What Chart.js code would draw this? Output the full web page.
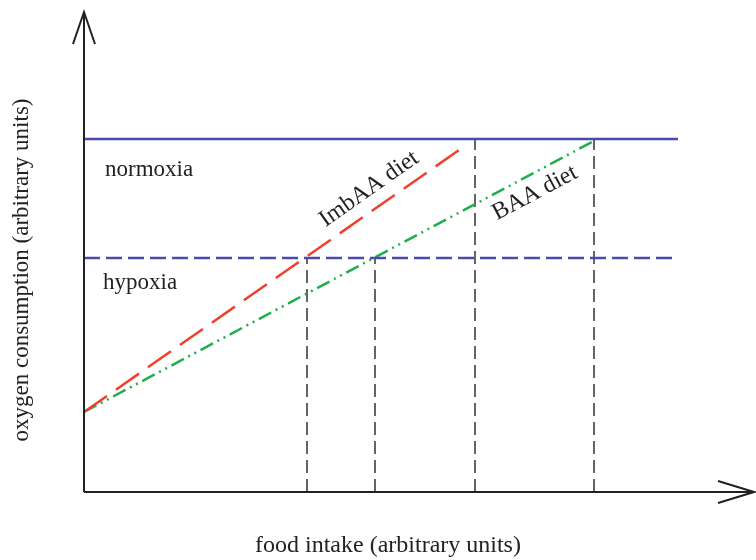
<!DOCTYPE html>
<html>
<head>
<meta charset="utf-8">
<script src="https://cdn.jsdelivr.net/npm/chart.js@4/dist/chart.umd.min.js"></script>
<style>
  html, body { margin: 0; padding: 0; background: #fff; }
  #wrap { width: 756px; height: 560px; }
</style>
</head>
<body>
<div id="wrap"><canvas id="oxyChart"></canvas></div>
<script>
// levels of oxygen supply (arbitrary units)
const normoxiaLevel = 353;
const hypoxiaLevel = 234;
const levelEnd = [594, 591];

// diet lines: [food intake, oxygen consumption]
const imbaaLine = [[0, 80], [378, 344]];
const baaLine = [[0, 80], [508, 350]];

// food intake where each diet meets each oxygen limit
const limitX = [223, 291, 391, 510];
const limitY = [hypoxiaLevel, hypoxiaLevel, normoxiaLevel, normoxiaLevel];

const toPts = arr => arr.map(p => ({ x: p[0], y: p[1] }));

const datasets = [
    {
        data: [{ x: 0, y: normoxiaLevel }, { x: levelEnd[0], y: normoxiaLevel }],
        borderColor: '#4a4aae', borderWidth: 2.5
    },
    {
        data: [{ x: 0, y: hypoxiaLevel }, { x: levelEnd[1], y: hypoxiaLevel }],
        borderColor: '#4a4aae', borderWidth: 2.5, borderDash: [16, 6]
    },
    {
        data: toPts(imbaaLine),
        borderColor: '#f0402c', borderWidth: 2.5, borderDash: [28, 11]
    },
    {
        data: toPts(baaLine),
        borderColor: '#1fae4e', borderWidth: 2.5, borderDash: [14, 5, 2, 5, 2, 5]
    }
];
limitX.forEach((x, i) => {
    datasets.push({
        data: [{ x: x, y: 0 }, { x: x, y: limitY[i] }],
        borderColor: '#333', borderWidth: 1.5, borderDash: [13, 6]
    });
});

// axes arrows and all the text
const decor = {
    id: 'decor',
    afterDraw(chart) {
        const c = chart.ctx;
        const a = chart.chartArea;
        c.save();
        c.strokeStyle = '#222';
        c.lineWidth = 2;
        c.beginPath();
        c.moveTo(a.left, a.bottom);
        c.lineTo(a.left, a.top);
        c.moveTo(a.left, a.bottom);
        c.lineTo(a.right, a.bottom);
        // y arrow
        c.moveTo(a.left - 11, a.top + 32);
        c.lineTo(a.left, a.top);
        c.lineTo(a.left + 11, a.top + 32);
        // x arrow
        c.moveTo(a.right - 36, a.bottom - 11);
        c.lineTo(a.right, a.bottom);
        c.lineTo(a.right - 36, a.bottom + 11);
        c.stroke();

        const serif = '"Liberation Serif", "DejaVu Serif", serif';
        c.fillStyle = '#222';
        c.font = '23px ' + serif;
        c.textBaseline = 'middle';
        c.textAlign = 'left';
        c.fillText('normoxia', 105, 170);
        c.fillText('hypoxia', 103, 283);

        c.textAlign = 'center';
        c.font = '24px ' + serif;
        c.fillText('food intake (arbitrary units)', 388, 546);

        c.save();
        c.font = '23px ' + serif;
        c.translate(22, 270);
        c.rotate(-Math.PI / 2);
        c.fillText('oxygen consumption (arbitrary units)', 0, 0);
        c.restore();

        c.font = '24px ' + serif;
        c.save();
        c.translate(369, 189);
        c.rotate(-35 * Math.PI / 180);
        c.fillText('ImbAA diet', 0, 0);
        c.restore();

        c.save();
        c.translate(535, 193);
        c.rotate(-28 * Math.PI / 180);
        c.fillText('BAA diet', 0, 0);
        c.restore();
        c.restore();
    }
};

new Chart(document.getElementById('oxyChart'), {
    type: 'line',
    data: { datasets: datasets },
    options: {
        responsive: true,
        maintainAspectRatio: false,
        animation: false,
        layout: { padding: { left: 84, right: 2, top: 12, bottom: 68 } },
        elements: { point: { radius: 0 }, line: { tension: 0, borderCapStyle: 'butt' } },
        scales: {
            x: {
                type: 'linear', min: 0, max: 670,
                display: false
            },
            y: {
                type: 'linear', min: 0, max: 480,
                display: false
            }
        },
        plugins: {
            legend: { display: false },
            tooltip: { enabled: false }
        }
    },
    plugins: [decor]
});
</script>
</body>
</html>
